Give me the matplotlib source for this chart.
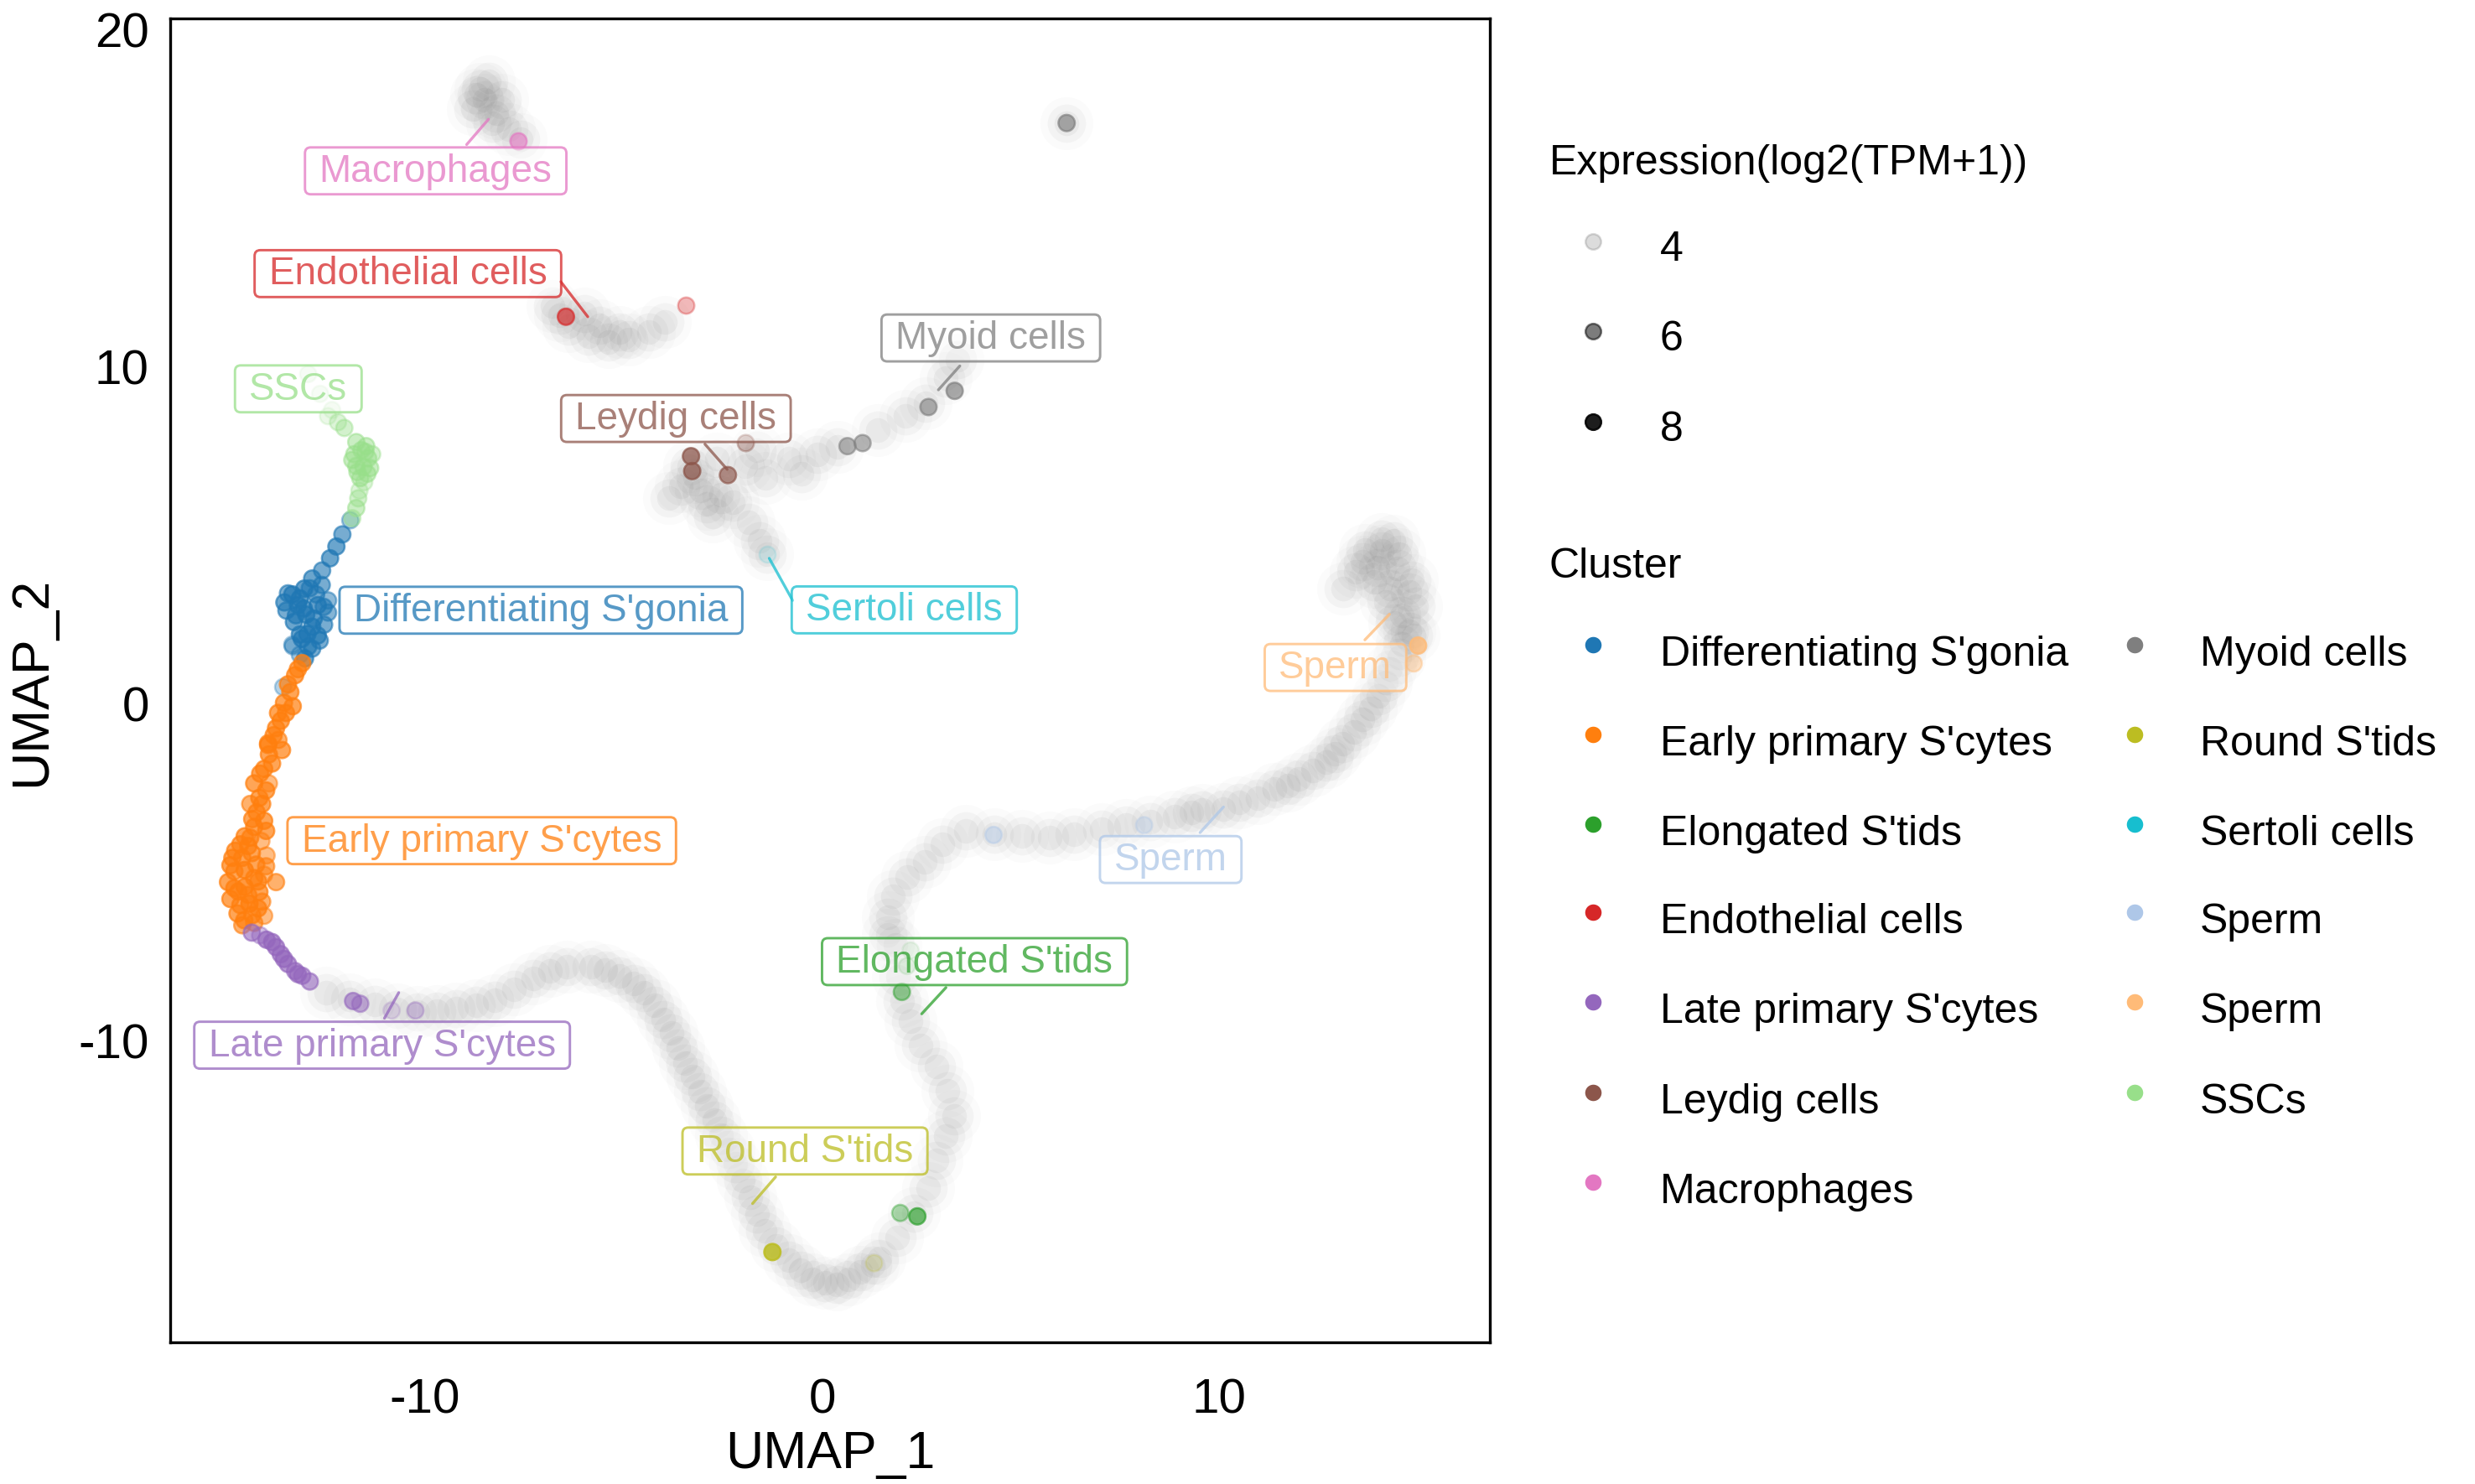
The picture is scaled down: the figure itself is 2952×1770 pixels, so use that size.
import numpy as np
import matplotlib
matplotlib.use("Agg")
import matplotlib.pyplot as plt
from matplotlib.colors import to_rgba_array
from matplotlib.patches import BoxStyle

plt.rcParams["font.family"] = ["Liberation Sans", "DejaVu Sans"]
plt.rcParams["axes.unicode_minus"] = False

# ---- data ----
clusters = ["Differentiating S'gonia", "Early primary S'cytes", "Elongated S'tids",
            "Endothelial cells", "Late primary S'cytes", "Leydig cells", "Macrophages",
            "Myoid cells", "Round S'tids", "Sertoli cells", "Sperm", "Sperm", "SSCs"]
colors = ["#1f77b4", "#ff7f0e", "#2ca02c", "#d62728", "#9467bd", "#8c564b", "#e377c2",
          "#7f7f7f", "#bcbd22", "#17becf", "#aec7e8", "#ffbb78", "#98df8a"]

# background cells (all cells, grey)
bg_x = [-8.61, -8.40, -8.80, -8.20, -7.89, -7.59, -8.50, -8.05, -8.70, -8.30,
        -6.78, -6.38, -5.98, -5.87, -5.37, -4.86, -4.36, -3.95, -6.60, -5.60, -5.10,
        -3.86, -3.55, -3.05, -2.54, -3.35, -2.64, -1.94, -2.24, -2.75, -1.63, -1.43, -0.83,
        -0.12, -0.52, 0.40, 1.40, 2.10, 2.60, 3.11, 3.42, -3.20, -2.90,
        -1.84, -1.58, -1.38, 6.16,
        -12.48, -11.90, -11.27, -10.70, -10.18, -9.70, -9.21, -8.70, -8.24, -7.75, -7.27,
        -6.85, -6.42, -5.81, -5.45, -5.09, -4.75, -4.48, -4.22, -4.00, -3.80, -3.63, -3.45,
        -3.27, -3.08, -2.90, -2.72, -2.54, -2.36, -2.18, -2.00, -1.81, -1.63, -1.45, -1.15,
        -0.84, -0.54, -0.24, 0.07, 0.37, 0.67, 0.97, 1.28, 1.44, 1.88, 2.32, 2.67, 2.89,
        3.11, 3.33, 3.15, 2.89, 2.49, 2.23, 2.01, 1.92, 1.84, 1.66, 1.65, 1.79, 2.14, 2.58,
        3.02, 3.63, 4.33, 5.03, 5.73, 6.35, 7.04, 7.66, 8.27, 8.88, 9.30, 9.58, 10.11, 10.50,
        10.97, 11.40, 11.73, 12.00, 12.37, 12.70, 12.91, 13.10, 13.40, 13.60, 13.83, 14.00,
        14.20, 14.30, 14.53, 14.60, 14.80, 14.96, 14.85, 14.53, 14.10, 13.67, 13.45, 13.13,
        14.31, 14.42, 13.99, 14.10, 14.50, 14.80, 14.60, 14.20, 13.90, 13.60, 14.40, 14.90]
bg_y = [18.22, 18.45, 17.62, 17.50, 17.03, 16.73, 17.90, 17.90, 18.05, 17.20,
        11.79, 11.19, 11.55, 10.89, 10.72, 10.78, 11.01, 11.31, 11.50, 11.20, 11.00,
        6.07, 6.43, 6.31, 6.19, 7.03, 7.26, 7.03, 5.96, 5.54, 7.50, 6.67, 7.26,
        7.38, 6.79, 7.60, 8.10, 8.51, 8.90, 9.64, 10.18, 6.70, 5.90,
        5.36, 4.82, 4.41, 17.21,
        -8.60, -8.80, -8.96, -9.10, -9.18, -9.15, -9.08, -8.98, -8.82, -8.50, -8.18,
        -7.95, -7.82, -7.82, -7.92, -8.10, -8.32, -8.60, -8.98, -9.39, -9.80, -10.25, -10.68,
        -11.10, -11.53, -11.96, -12.39, -12.82, -13.25, -13.68, -14.18, -14.68, -15.18, -15.68, -16.12,
        -16.53, -16.85, -17.10, -17.22, -17.25, -17.10, -16.89, -16.70, -16.48, -15.86, -15.14, -14.41, -13.59,
        -12.86, -12.25, -11.52, -10.80, -10.18, -9.46, -8.84, -8.12, -7.19, -6.37, -6.89, -5.75, -5.18, -4.72,
        -4.20, -3.79, -3.89, -3.94, -3.99, -3.89, -3.74, -3.63, -3.53, -3.38, -3.25, -3.17, -3.15, -2.95,
        -2.83, -2.55, -2.45, -2.25, -2.01, -1.75, -1.50, -1.20, -0.86, -0.50, -0.16, 0.20,
        0.60, 1.00, 1.36, 1.75, 2.12, 2.88, 3.64, 4.41, 4.85, 4.53, 3.90, 3.39,
        3.39, 2.37, 4.02, 4.50, 4.00, 3.30, 2.60, 3.00, 3.60, 4.20, 4.80, 2.00]

# cells with detected expression, per cluster: x, y, log2(TPM+1)
pts = {
    0: ([-11.88, -12.08, -12.23, -12.39, -12.59, -12.84, -13.04, -13.34, -13.54, -13.49, -13.15,
         -12.74, -12.44, -12.44, -12.99, -12.84, -12.54, -13.15, -13.34, -12.94, -13.15, -12.96,
         -13.33, -12.84, -13.02, -13.57, -13.20, -12.70, -13.30, -12.70, -12.90, -13.45, -12.60,
         -13.05, -12.80, -13.25, -12.55, -13.10, -12.65],
        [5.42, 5.00, 4.64, 4.29, 3.93, 3.69, 3.39, 3.22, 2.98, 2.74, 3.10,
         3.22, 3.04, 2.68, 2.62, 2.26, 2.32, 2.03, 1.73, 1.67, 1.43, 2.04,
         1.68, 1.61, 1.32, 0.47, 2.90, 2.90, 2.40, 2.00, 3.40, 3.25, 3.50,
         2.80, 2.50, 2.60, 2.85, 1.90, 1.85],
        [5.5, 6.5, 6.8, 6.8, 6.5, 6.8, 7.0, 7.0, 6.8, 6.5, 7.2,
         6.5, 6.0, 6.2, 7.0, 7.0, 6.5, 6.8, 5.2, 6.8, 5.5, 7.0,
         5.5, 6.5, 6.8, 5.0, 7.0, 7.0, 6.8, 6.8, 6.5, 6.5, 6.5,
         7.0, 7.0, 6.8, 6.5, 7.0, 6.5]),
    1: ([-13.09, -13.27, -13.39, -13.33, -13.63, -13.81, -13.69, -13.93, -14.05, -13.93, -14.30,
         -14.17, -14.24, -14.30, -14.54, -14.12, -14.78, -14.36, -13.99, -14.90, -14.54, -14.05,
         -13.75, -14.96, -14.54, -14.17, -14.90, -14.42, -14.72, -14.05, -14.30, -13.55, -13.70,
         -13.85, -14.10, -14.40, -14.60, -14.30, -14.70, -14.60, -14.10, -14.40, -13.95, -14.20, -14.80,
         -13.20, -13.45, -13.50, -13.75, -13.60, -13.95, -14.00, -14.15, -14.05, -14.35, -14.45,
         -14.00, -14.65, -14.85, -14.25, -14.80, -14.45, -14.20, -14.65, -14.35, -14.55, -14.00],
        [1.18, 0.82, 0.32, -0.10, -0.53, -0.96, -1.10, -1.53, -1.96, -2.39, -2.39,
         -2.82, -3.25, -3.68, -3.96, -4.10, -4.39, -4.46, -4.53, -4.82, -4.96, -5.10,
         -5.32, -5.32, -5.46, -5.61, -5.82, -5.96, -6.25, -6.32, -6.53, 0.00, -0.30,
         -1.80, -3.00, -3.00, -4.60, -5.20, -5.60, -6.60, -5.90, -4.00, -1.25, -6.10, -5.00,
         1.00, 0.55, -0.30, -0.75, -1.40, -1.20, -2.60, -2.10, -3.50, -3.45, -4.25,
         -3.80, -4.20, -4.60, -4.80, -5.50, -5.70, -5.30, -6.00, -6.30, -6.45, -4.85],
        [7, 7, 7, 7, 7, 7, 6.5, 7, 7, 6, 7,
         7, 7, 7, 7, 6, 7, 7, 6, 7, 7.5, 6,
         6.5, 7, 7.5, 7, 7, 7.5, 7, 6, 6.5, 7, 7,
         7, 7, 6.5, 7, 7, 7, 6.5, 6.5, 7, 7, 7, 7,
         7, 7, 7, 7, 7, 7, 7, 7, 7, 7, 7,
         7, 7, 7, 7, 7, 7, 7, 7, 7, 7, 6.5]),
    2: ([1.97, 2.40, 2.01, 2.23, 2.14], [-15.14, -15.24, -8.58, -7.35, -7.81], [5.3, 6.8, 5.8, 4.0, 4.2]),
    3: ([-6.45, -3.42], [11.46, 11.79], [6.8, 5.0]),
    4: ([-14.36, -13.99, -13.75, -13.63, -13.45, -13.27, -13.09, -12.90, -11.81, -11.63, -10.84,
         -10.24, -13.85, -14.15, -13.55, -13.20],
        [-6.82, -7.03, -7.25, -7.46, -7.75, -7.96, -8.10, -8.27, -8.85, -8.93, -9.13,
         -9.13, -7.10, -6.90, -7.60, -8.05],
        [6.5, 7, 7, 6.8, 6.8, 6.5, 6.5, 6.5, 6.5, 6.0, 4.3, 5.0, 7, 5.5, 7, 6.8]),
    5: ([-3.30, -3.27, -2.37, -1.92], [7.32, 6.88, 6.76, 7.71], [7.2, 7.2, 6.8, 5.3]),
    6: ([-7.66], [16.69], [6.5]),
    7: ([6.16, 3.34, 2.68, 0.64, 1.02], [17.21, 9.26, 8.78, 7.62, 7.71], [6.8, 6.8, 6.5, 6.3, 6.3]),
    8: ([-1.25, 1.31], [-16.30, -16.63], [7.8, 4.2]),
    9: ([-1.38], [4.41], [3.9]),
    10: ([4.32, 8.11], [-3.92, -3.63], [5.5, 5.0]),
    11: ([15.01, 14.90], [1.70, 1.17], [7.5, 5.5]),
    12: ([-12.94, -12.64, -12.34, -12.44, -12.19, -12.03, -11.73, -11.48, -11.78, -11.43, -11.73,
          -11.38, -11.63, -11.83, -11.33, -11.53, -11.68, -11.73, -11.83, -11.60, -11.55, -11.65,
          -11.45, -11.70, -11.50],
         [9.76, 9.17, 8.69, 8.51, 8.33, 8.16, 7.74, 7.62, 7.38, 7.26, 7.03,
          6.97, 6.67, 7.21, 7.38, 6.55, 6.07, 5.78, 5.48, 7.50, 7.00, 6.30,
          6.80, 6.85, 7.45],
         [3.9, 3.9, 4.0, 4.3, 5.0, 5.5, 6.0, 6.0, 6.0, 6.0, 6.0,
          6.0, 6.0, 6.0, 5.5, 5.0, 5.5, 6.0, 5.5, 6.0, 6.0, 5.0,
          6.0, 6.0, 6.0]),
}

# repel labels: cluster index, label centre, segment (x0, y0, x1, y1) or None
lab_idx = [6, 3, 12, 5, 7, 0, 9, 1, 4, 2, 8, 11, 10]
lab_x = [-9.73, -10.43, -13.19, -3.68, 4.25, -7.08, 2.07, -8.57, -11.08, 3.84, -0.43, 12.93, 8.78]
lab_y = [15.79, 12.74, 9.32, 8.44, 10.83, 2.75, 2.76, -4.09, -10.16, -7.68, -13.30, 1.05, -4.65]
lab_seg = [(-8.95, 16.57, -8.40, 17.32), (-6.58, 12.50, -5.90, 11.46), None,
           (-2.95, 7.68, -2.39, 6.93), (3.47, 10.00, 2.93, 9.29), None,
           (-0.74, 3.04, -1.33, 4.29), None, (-11.02, -9.36, -10.66, -8.60),
           (3.12, -8.45, 2.51, -9.23), (-1.17, -14.07, -1.75, -14.86),
           (13.67, 1.87, 14.29, 2.63), (9.52, -3.85, 10.11, -3.09)]

expr_breaks = [4, 6, 8]


def expr_alpha(e):
    e = np.asarray(e, dtype=float)
    return np.clip(0.1 + 0.9 * (e - 3.8) / (8.6 - 3.8), 0.05, 1.0)


def label_box(x0, y0, width, height, mutation_size):
    # wider padding left/right than top/bottom, like ggrepel labels
    padx, pady = 0.37 * mutation_size, 0.13 * mutation_size
    return BoxStyle.Round(pad=0, rounding_size=0.15)(
        x0 - padx, y0 - pady, width + 2 * padx, height + 2 * pady, mutation_size)


fig = plt.figure(figsize=(9.84, 5.903), dpi=300)
ax = fig.add_axes([0.0687, 0.0954, 0.5333, 0.8916])

# grey background cells, soft halo + core
ax.scatter(bg_x, bg_y, s=230, color="#6e6e6e", alpha=0.025, linewidths=0, zorder=1)
ax.scatter(bg_x, bg_y, s=120, color="#6e6e6e", alpha=0.055, linewidths=0, zorder=1)
ax.scatter(bg_x, bg_y, s=50, color="#6e6e6e", alpha=0.07, linewidths=0, zorder=1)

for k, (xs, ys, es) in pts.items():
    rgba = to_rgba_array([colors[k]] * len(xs))
    rgba[:, 3] = expr_alpha(es)
    ax.scatter(xs, ys, s=22, c=rgba, edgecolors=rgba, linewidths=0.6, zorder=2)

for k, tx, ty, seg in zip(lab_idx, lab_x, lab_y, lab_seg):
    col = to_rgba_array(colors[k])[0]
    tcol = (col[0], col[1], col[2], 0.75)
    if seg is not None:
        ax.plot([seg[0], seg[2]], [seg[1], seg[3]], color=tcol, lw=0.8, zorder=3,
                solid_capstyle="round")
    ax.text(tx, ty, clusters[k], color=tcol, fontsize=11, ha="center", va="center", zorder=4,
            bbox=dict(boxstyle=label_box, facecolor=(1, 1, 1, 0.35), edgecolor=tcol, linewidth=0.7))

ax.set_xlim(-16.42, 16.82)
ax.set_ylim(-18.98, 20.31)
ax.set_xticks([-10, 0, 10])
ax.set_yticks([-10, 0, 10, 20])
ax.tick_params(length=0, labelsize=14, colors="black")
ax.tick_params(axis="x", pad=10)
ax.tick_params(axis="y", pad=6)
for sp in ax.spines.values():
    sp.set_linewidth(0.8)
    sp.set_color("black")
ax.set_xlabel("UMAP_1", fontsize=15, va="center")
ax.xaxis.set_label_coords(0.5, -0.084)
ax.set_ylabel("UMAP_2", fontsize=15, va="center")
ax.yaxis.set_label_coords(-0.1047, 0.5)

# legends drawn in figure pixel space
lg = fig.add_axes([0, 0, 1, 1], zorder=5)
lg.set_xlim(0, 2952)
lg.set_ylim(1771, 0)
lg.axis("off")

lg.text(1848, 195, "Expression(log2(TPM+1))", fontsize=12, va="center", ha="left")
expr_rows = [289, 396, 504]
for e, yy in zip(expr_breaks, expr_rows):
    a = float(expr_alpha(e))
    lg.scatter([1900], [yy], s=20, color="black", alpha=a, linewidths=0.6)
    lg.text(1980, yy + 9, str(e), fontsize=12, va="center", ha="left")

lg.text(1848, 676, "Cluster", fontsize=12, va="center", ha="left")
row_y = [770, 877, 984, 1089, 1196, 1304, 1411]
for i, (name, col) in enumerate(zip(clusters, colors)):
    c, r = divmod(i, 7)
    dx, tx = (1900, 1980) if c == 0 else (2546, 2624)
    lg.scatter([dx], [row_y[r]], s=22, color=col, linewidths=0)
    lg.text(tx, row_y[r] + 11, name, fontsize=12, va="center", ha="left")

fig.savefig("out.png", dpi=300)
